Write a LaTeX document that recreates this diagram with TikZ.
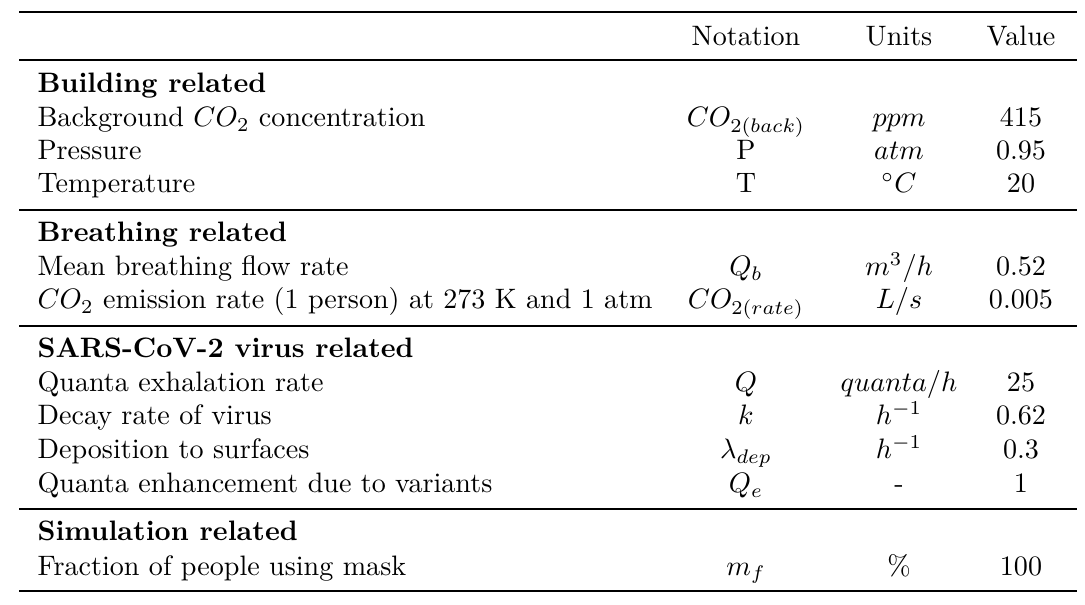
\documentclass[tikz,border=0pt]{standalone}
\usepackage{amsmath}
\usepackage{tikz}
\usetikzlibrary{positioning}

\begin{document}
\begin{tikzpicture}[x=0.3557pt, y=-0.3557pt,
  heavyrule/.style={line width=0.8pt},
  lightrule/.style={line width=0.5pt},
  rowLabel/.style={anchor=base west, inner sep=0pt},
  rowCell/.style={anchor=base, inner sep=0pt}]

\useasboundingbox (0,0) rectangle (1085,605);

% rules
\draw[heavyrule] (19,12)--(1077,12);
\draw[lightrule] (19,60)--(1077,60);
\draw[lightrule] (19,210)--(1077,210);
\draw[lightrule] (19,326)--(1077,326);
\draw[lightrule] (19,509)--(1077,509);
\draw[heavyrule] (19,591)--(1077,591);

% header
\node[rowCell] (hNote) at (746,46) {Notation};
\node[rowCell] (hUnit) at (899,46) {Units};
\node[rowCell] (hVal) at (1021,46) {Value};

% groups
\node[rowLabel] (gBuild) at (37,93) {\textbf{Building related}};
\node[rowLabel] (gBreath) at (37,242) {\textbf{Breathing related}};
\node[rowLabel] (gSars) at (37,358) {\textbf{SARS-CoV-2 virus related}};
\node[rowLabel] (gSim) at (37,541) {\textbf{Simulation related}};

% rows
\foreach \y/\name/\note/\unit/\val in {
  127/{Background $CO_2$ concentration}/{$CO_{2(back)}$}/{$ppm$}/415,
  160/{Pressure}/{P}/{$atm$}/0.95,
  193/{Temperature}/{T}/{$^\circ C$}/20,
  276/{Mean breathing flow rate}/{$Q_b$}/{$m^3/h$}/0.52,
  309/{$CO_2$ emission rate (1 person) at 273 K and 1 atm}/{$CO_{2(rate)}$}/{$L/s$}/0.005,
  392/{Quanta exhalation rate}/{$Q$}/{$quanta/h$}/25,
  425/{Decay rate of virus}/{$k$}/{$h^{-1}$}/0.62,
  459/{Deposition to surfaces}/{$\lambda_{dep}$}/{$h^{-1}$}/0.3,
  493/{Quanta enhancement due to variants}/{$Q_e$}/{-}/1,
  575/{Fraction of people using mask}/{$m_f$}/{\%}/100}
{
\node[rowLabel] (name\y) at (37,\y) {\name};
\node[rowCell] (note\y) at (746,\y) {\note};
\node[rowCell] (unit\y) at (899,\y) {\unit};
\node[rowCell] (val\y) at (1021,\y) {\val};
}

\end{tikzpicture}
\end{document}
